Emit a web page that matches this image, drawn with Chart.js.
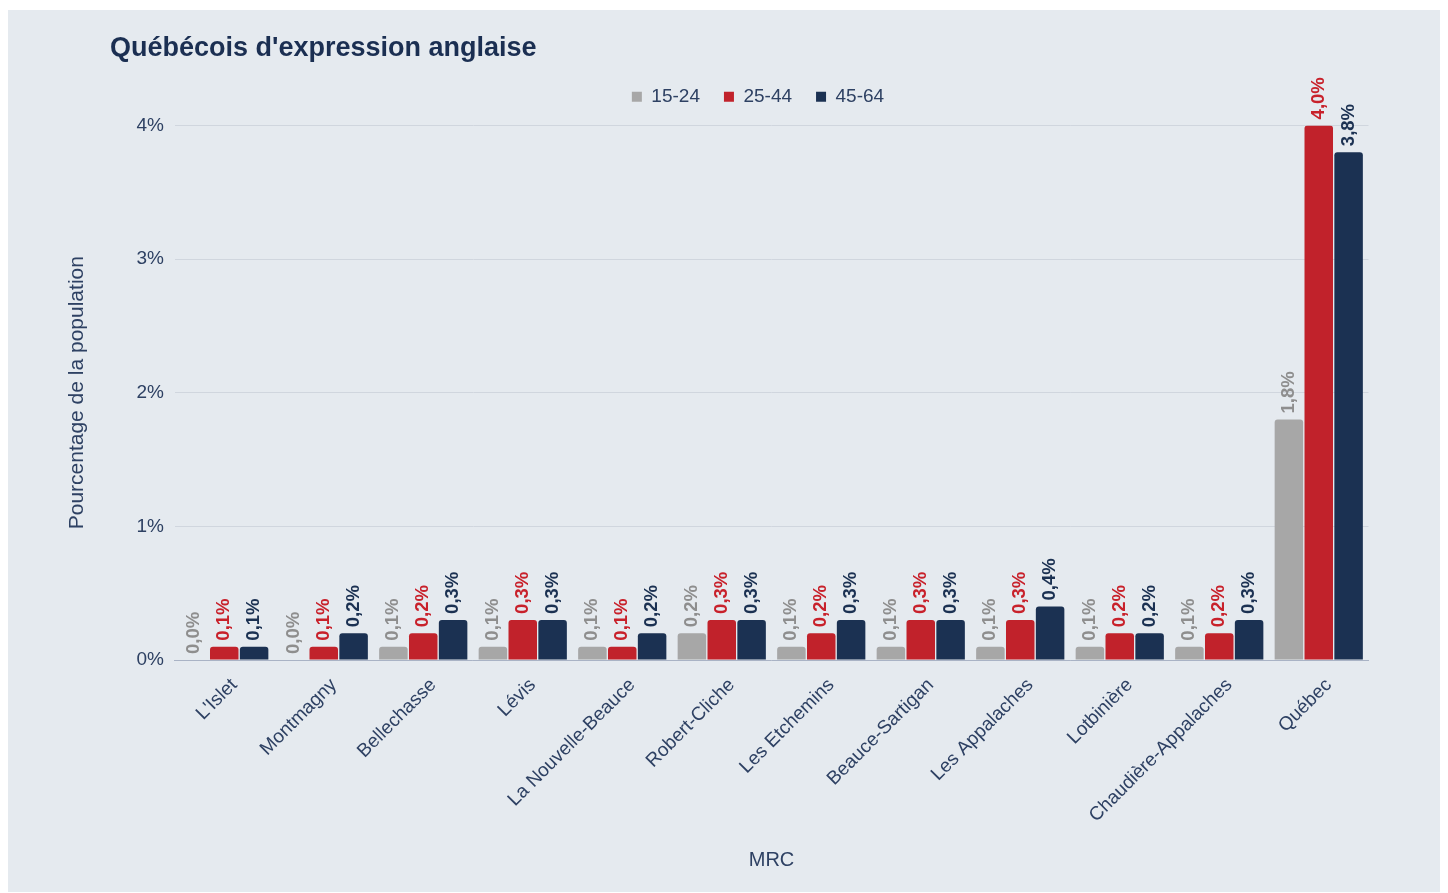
<!DOCTYPE html>
<html lang="fr">
<head>
  <meta charset="UTF-8" />
  <title>Québécois d'expression anglaise</title>
  <script src="https://cdn.jsdelivr.net/npm/chart.js"></script>
  <style>
    html, body { margin: 0; padding: 0; background: #ffffff; }
    .panel { position: absolute; left: 8px; top: 10px; width: 1432px; height: 882px; background: #e5eaef; }
  </style>
</head>
<body>
  <div class="panel"><canvas id="chart"></canvas></div>

  <script>
    // Données (pourcentage de la population)
    const categories = ["L'Islet", 'Montmagny', 'Bellechasse', 'Lévis', 'La Nouvelle-Beauce', 'Robert-Cliche',
      'Les Etchemins', 'Beauce-Sartigan', 'Les Appalaches', 'Lotbinière', 'Chaudière-Appalaches', 'Québec'];
    const seriesNames = ['15-24', '25-44', '45-64'];
    const age15to24 = [0.0, 0.0, 0.1, 0.1, 0.1, 0.2, 0.1, 0.1, 0.1, 0.1, 0.1, 1.8];
    const age25to44 = [0.1, 0.1, 0.2, 0.3, 0.1, 0.3, 0.2, 0.3, 0.3, 0.2, 0.2, 4.0];
    const age45to64 = [0.1, 0.2, 0.3, 0.3, 0.2, 0.3, 0.3, 0.3, 0.4, 0.2, 0.3, 3.8];
    const yTicks = [0, 1, 2, 3, 4];

    const barColors = ['#a7a7a7', '#c1222b', '#1b3152'];
    const labelColors = ['#8e8e8e', '#c8212b', '#1b3152'];
    const textColor = '#2e4163';

    Chart.defaults.font.family = '"Liberation Sans", Arial, sans-serif';
    Chart.defaults.color = textColor;

    // place le titre et la légende comme sur l'original
    const placeHeader = {
      id: 'placeHeader',
      afterLayout(chart) {
        const t = chart.titleBlock;
        const w = t.right - t.left;
        t.left = 102;
        t.right = 102 + w;
        const lg = chart.legend;
        const dx = 750 - (lg.left + lg.right) / 2;
        lg.left += dx;
        lg.right += dx;
        const h = lg.bottom - lg.top;
        lg.top = 87 - 24 - 9.75;
        lg.bottom = lg.top + h;
      }
    };

    // étiquettes verticales au-dessus des barres
    const barLabels = {
      id: 'barLabels',
      afterDatasetsDraw(chart) {
        const ctx = chart.ctx;
        chart.data.datasets.forEach((ds, i) => {
          const meta = chart.getDatasetMeta(i);
          meta.data.forEach((bar, j) => {
            const txt = ds.data[j].toFixed(1).replace('.', ',') + '%';
            ctx.save();
            ctx.translate(bar.x, bar.y - 6);
            ctx.rotate(-Math.PI / 2);
            ctx.font = 'bold 18.5px "Liberation Sans", Arial, sans-serif';
            ctx.fillStyle = labelColors[i];
            ctx.textAlign = 'left';
            ctx.textBaseline = 'middle';
            ctx.fillText(txt, 0, 0);
            ctx.restore();
          });
        });
      }
    };

    const seriesData = [age15to24, age25to44, age45to64];

    new Chart(document.getElementById('chart'), {
      type: 'bar',
      data: {
        labels: categories,
        datasets: seriesNames.map((name, i) => ({
          label: name,
          data: seriesData[i],
          backgroundColor: barColors[i],
          borderWidth: 0,
          borderRadius: 3,
          categoryPercentage: 0.9,
          barPercentage: 0.955
        }))
      },
      options: {
        responsive: true,
        maintainAspectRatio: false,
        animation: false,
        layout: { padding: { left: 50, right: 71.5, top: 0, bottom: 10 } },
        plugins: {
          title: {
            display: true,
            text: "Québécois d'expression anglaise",
            align: 'start',
            color: '#1b2f52',
            font: { size: 27, weight: 'bold' },
            padding: { top: 22, bottom: 8 }
          },
          legend: {
            position: 'top',
            labels: {
              boxWidth: 10,
              boxHeight: 10,
              padding: 24,
              color: textColor,
              font: { size: 19 }
            }
          },
          tooltip: { enabled: false }
        },
        scales: {
          x: {
            grid: { display: false },
            border: { display: true, color: '#a9b3c5', width: 1 },
            ticks: {
              minRotation: 45,
              maxRotation: 45,
              autoSkip: false,
              padding: 6,
              labelOffset: 10,
              color: textColor,
              font: { size: 19 }
            },
            title: {
              display: true,
              text: 'MRC',
              color: textColor,
              font: { size: 20 },
              padding: { top: 0, bottom: 10 }
            },
            afterFit(scale) { scale.height = 222; }
          },
          y: {
            min: 0,
            max: 4,
            afterBuildTicks(scale) { scale.ticks = yTicks.map(v => ({ value: v })); },
            grid: { color: '#d0d6de', drawTicks: false },
            border: { display: false },
            ticks: {
              padding: 10.5,
              color: textColor,
              font: { size: 19 },
              callback: v => v + '%'
            },
            title: {
              display: true,
              text: 'Pourcentage de la population',
              color: textColor,
              font: { size: 21 },
              padding: { top: 7, bottom: 0 }
            },
            afterFit(scale) { scale.width = 116.5; }
          }
        }
      },
      plugins: [placeHeader, barLabels]
    });
  </script>
</body>
</html>
